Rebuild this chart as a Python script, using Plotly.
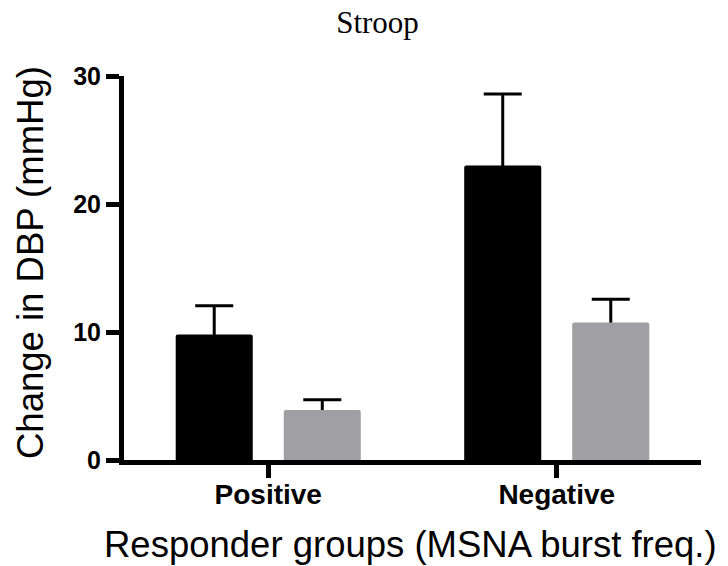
import plotly.graph_objects as go

# Responder groups and mean change in diastolic BP (mmHg) with SEM
groups = ["Positive", "Negative"]
series_a = [9.8, 23.0]      # black bars
series_a_err = [2.25, 5.6]
series_b = [3.9, 10.75]     # gray bars
series_b_err = [0.8, 1.8]

y_ticks = [0, 10, 20, 30]

x_title = "Responder groups (MSNA burst freq.)"
y_title = "Change in DBP (mmHg)"

BLACK = "#000000"
GRAY = "#a0a0a4"
SANS = "Liberation Sans, Arial, sans-serif"

W, H = 728, 566
ML, MR, MT, MB = 124, 27, 76, 106
PW, PH = W - ML - MR, H - MT - MB

fig = go.Figure()


def err_trace(values, errs, group):
    # transparent carrier for the upper error bar; its lower half sits
    # behind the solid bar drawn afterwards in the same offset group
    return go.Bar(
        x=groups, y=values, offsetgroup=group,
        marker=dict(color="rgba(0,0,0,0)", line=dict(width=0)),
        error_y=dict(type="data", array=errs, symmetric=True,
                     color=BLACK, thickness=3, width=19),
        showlegend=False, hoverinfo="skip",
    )


def bar_trace(values, color, group):
    return go.Bar(
        x=groups, y=values, offsetgroup=group,
        marker=dict(color=color, line=dict(width=0), cornerradius=2),
        showlegend=False,
    )


fig.add_trace(err_trace(series_a, series_a_err, "a"))
fig.add_trace(err_trace(series_b, series_b_err, "b"))
fig.add_trace(bar_trace(series_a, BLACK, "a"))
fig.add_trace(bar_trace(series_b, GRAY, "b"))

fig.update_layout(
    width=W, height=H,
    margin=dict(l=ML, r=MR, t=MT, b=MB, autoexpand=False),
    paper_bgcolor="white", plot_bgcolor="white",
    barmode="group", bargap=0.251, bargroupgap=0.287,
    title=dict(text="Stroop", x=377.5 / W, xref="container", xanchor="center",
               y=1 - 22 / H, yref="container", yanchor="middle",
               font=dict(family="Liberation Serif, Times New Roman, serif", size=31, color="black")),
    font=dict(family=SANS, color="black"),
)

fig.update_xaxes(
    type="category", range=[-0.5, 1.5], automargin=False,
    showline=True, linewidth=5, linecolor="black",
    ticks="outside", ticklen=13, tickwidth=5, tickcolor="black",
    tickfont=dict(family=SANS, size=28, color="black", weight="bold"),
    ticklabelstandoff=-8,
    showgrid=False, zeroline=False,
)

fig.update_yaxes(
    range=[0, 30], tickvals=y_ticks, automargin=False,
    showline=True, linewidth=5, linecolor="black",
    ticks="outside", ticklen=13, tickwidth=4.5, tickcolor="black",
    tickfont=dict(family=SANS, size=25, color="black", weight="bold"),
    ticklabelstandoff=0,
    showgrid=False, zeroline=False,
)

# axis titles placed as paper annotations
fig.add_annotation(
    text=x_title, xref="paper", yref="paper",
    x=(410.5 - ML) / PW, y=(MT + PH - 544) / PH,
    xanchor="center", yanchor="middle", showarrow=False,
    font=dict(family=SANS, size=36.5, color="black"),
)
fig.add_annotation(
    text=y_title, xref="paper", yref="paper",
    x=(30 - ML) / PW, y=(MT + PH - 263) / PH, textangle=-90,
    xanchor="center", yanchor="middle", showarrow=False,
    font=dict(family=SANS, size=36.5, color="black"),
)

fig.write_html("out.html")
